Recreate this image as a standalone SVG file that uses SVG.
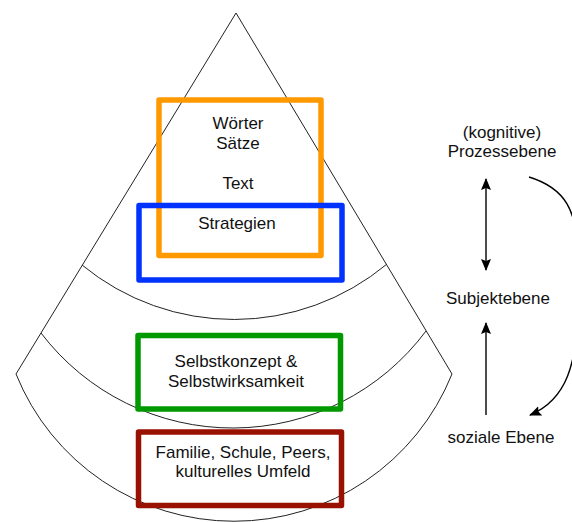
<svg xmlns="http://www.w3.org/2000/svg" width="572" height="522" viewBox="0 0 572 522">
<style>
  .ln{fill:none;stroke:#222;stroke-width:1}
  .box{fill:none;stroke-width:5.5;stroke-linejoin:round}
  .t{font-family:"Liberation Sans",Arial,sans-serif;font-size:17px;fill:#111;text-anchor:middle}
  .ar{fill:none;stroke:#000;stroke-width:1.4}
</style>
<defs>
  <marker id="ah" viewBox="0 0 12 10" refX="11" refY="5" markerWidth="12" markerHeight="10" markerUnits="userSpaceOnUse" orient="auto-start-reverse">
    <path d="M0,0 L12,5 L0,10 L2,5 Z" fill="#000"/>
  </marker>
</defs>
<g id="pyramid">
  <path class="ln" d="M16,374 L236,13 L452,374"/>
  <path class="ln" d="M82,265 A239,239 0 0 0 387,264"/>
  <path class="ln" d="M41,333 A241,241 0 0 0 426,331"/>
  <path class="ln" d="M16,374 A235,235 0 0 0 452,374"/>
</g>
<g id="orange">
  <rect class="box" x="159" y="100" width="162" height="155.5" stroke="#FF9900"/>
  <text class="t" x="238" y="129">Wörter</text>
  <text class="t" x="238" y="149">Sätze</text>
  <text class="t" x="238" y="189">Text</text>
</g>
<g id="blue">
  <rect class="box" x="139" y="205.5" width="203" height="74.5" stroke="#0033FF"/>
  <text class="t" x="237" y="229">Strategien</text>
</g>
<g id="green">
  <rect class="box" x="138" y="335.5" width="202.5" height="73.5" stroke="#009900"/>
  <text class="t" x="236" y="367">Selbstkonzept &amp;</text>
  <text class="t" x="236" y="387">Selbstwirksamkeit</text>
</g>
<g id="red">
  <rect class="box" x="138.5" y="432" width="203" height="73.5" stroke="#991100"/>
  <text class="t" x="243" y="458">Familie, Schule, Peers,</text>
  <text class="t" x="243" y="477">kulturelles Umfeld</text>
</g>
<g id="prozess"><text class="t" x="502" y="138">(kognitive)</text><text class="t" x="502" y="157">Prozessebene</text></g>
<g id="subjekt"><text class="t" x="498" y="304">Subjektebene</text></g>
<g id="sozial"><text class="t" x="501" y="443">soziale Ebene</text></g>
<g id="connectors">
  <line class="ar" x1="486" y1="179" x2="486" y2="270" marker-start="url(#ah)" marker-end="url(#ah)"/>
  <line class="ar" x1="486" y1="415" x2="486" y2="323" marker-end="url(#ah)"/>
  <path class="ar" d="M529,177 C565,188 578,210 578,260 L578,300 C578,365 566,400 530,415" marker-end="url(#ah)"/>
</g>
</svg>
